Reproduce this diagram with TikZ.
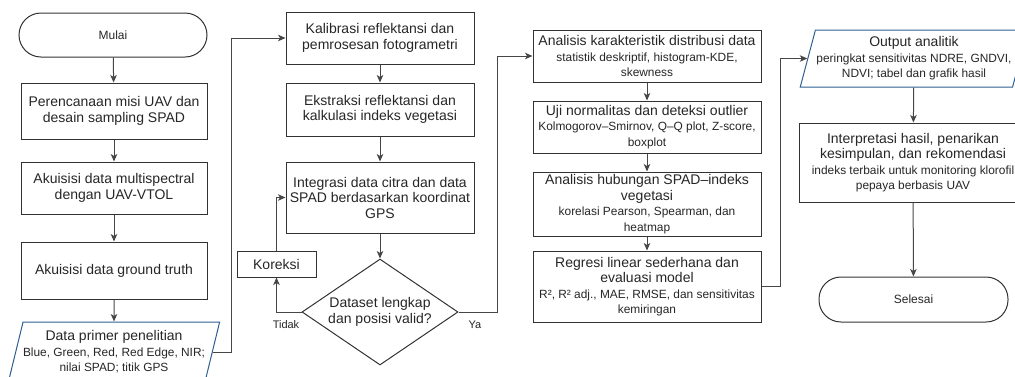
\documentclass[tikz,border=0pt]{standalone}
\usepackage{fontspec}
\setmainfont{Liberation Sans}
\usepackage{tikz}
\usetikzlibrary{shapes.geometric,arrows.meta}

\definecolor{garis}{RGB}{50,50,50}
\definecolor{panah}{RGB}{70,70,70}
\definecolor{biru}{RGB}{45,95,145}
\newcommand{\kecil}{\fontsize{11.9}{13}\selectfont}

\begin{document}
\begin{tikzpicture}[x=1pt,y=-1pt]
        \tikzstyle{every node}=[font=\fontsize{14}{15.5}\selectfont, text=black!85, inner sep=0pt, align=center]
        \tikzstyle{proses}=[draw=garis, line width=1pt, rectangle]
        \tikzstyle{terminal}=[draw=garis, line width=1pt, rectangle, rounded corners=22pt, font=\fontsize{12}{14}\selectfont]
        \tikzstyle{iodata}=[draw=biru, line width=1pt, trapezium, trapezium left angle=71, trapezium right angle=109, trapezium stretches=true]
        \tikzstyle{keputusan}=[draw=garis, line width=1pt, diamond, aspect=1.47]
        \tikzstyle{arr}=[draw=panah, line width=1pt, -{Stealth[length=7.5pt,width=6.5pt,inset=2pt]}]
        \tikzstyle{ket}=[font=\fontsize{11}{13}\selectfont]

        \useasboundingbox (0,0) rectangle (1015,376);

        % kolom 1
        \node (mulai) [terminal, minimum width=188pt, minimum height=44pt] at (113,35) {Mulai};
        \node (rencana) [proses, minimum width=186pt, minimum height=56pt] at (114,111) {Perencanaan misi UAV dan\\desain sampling SPAD};
        \node (akuisisi) [proses, minimum width=186pt, minimum height=52pt] at (114,188) {Akuisisi data multispectral\\dengan UAV-VTOL};
        \node (ground) [proses, minimum width=186pt, minimum height=57pt] at (114,270.5) {Akuisisi data ground truth};
        \node (primer) [iodata, minimum width=208.7pt, minimum height=60pt] at (114,352) {Data primer penelitian\\{\kecil Blue, Green, Red, Red Edge, NIR;}\\{\kecil nilai SPAD; titik GPS}};

        % kolom 2
        \node (kalibrasi) [proses, minimum width=188pt, minimum height=52pt] at (380,38) {Kalibrasi reflektansi dan\\pemrosesan fotogrametri};
        \node (ekstraksi) [proses, minimum width=188pt, minimum height=53pt] at (380,109.5) {Ekstraksi reflektansi dan\\kalkulasi indeks vegetasi};
        \node (integrasi) [proses, minimum width=188pt, minimum height=71pt] at (380,197.5) {Integrasi data citra dan data\\SPAD berdasarkan koordinat\\GPS};
        \node (koreksi) [proses, minimum width=79pt, minimum height=26pt] at (276.5,264) {Koreksi};
        \node (valid) [keputusan, minimum width=156pt, minimum height=106pt] at (380,312) {Dataset lengkap\\dan posisi valid?};

        % kolom 3
        \node (distribusi) [proses, minimum width=228pt, minimum height=52pt] at (647,56) {Analisis karakteristik distribusi data\\{\kecil statistik deskriptif, histogram-KDE,}\\{\kecil skewness}};
        \node (normalitas) [proses, minimum width=228pt, minimum height=52pt] at (647,127) {Uji normalitas dan deteksi outlier\\{\kecil Kolmogorov–Smirnov, Q–Q plot, Z-score,}\\{\kecil boxplot}};
        \node (hubungan) [proses, minimum width=228pt, minimum height=64pt] at (647,204) {Analisis hubungan SPAD–indeks\\vegetasi\\{\kecil korelasi Pearson, Spearman, dan}\\{\kecil heatmap}};
        \node (regresi) [proses, minimum width=228pt, minimum height=71pt] at (647,286.5) {Regresi linear sederhana dan\\evaluasi model\\{\kecil R², R² adj., MAE, RMSE, dan sensitivitas}\\{\kecil kemiringan}};

        % kolom 4
        \node (output) [iodata, minimum width=227.6pt, minimum height=57pt] at (914,58.5) {Output analitik\\{\kecil peringkat sensitivitas NDRE, GNDVI,}\\{\kecil NDVI; tabel dan grafik hasil}};
        \node (interpretasi) [proses, minimum width=228pt, minimum height=79pt] at (913,162.5) {Interpretasi hasil, penarikan\\kesimpulan, dan rekomendasi\\{\kecil indeks terbaik untuk monitoring klorofil}\\{\kecil pepaya berbasis UAV}};
        \node (selesai) [terminal, minimum width=189pt, minimum height=45pt] at (913.5,299.5) {Selesai};

        \draw[arr] (mulai) -- (rencana);
        \draw[arr] (rencana) -- (akuisisi);
        \draw[arr] (akuisisi) -- (ground);
        \draw[arr] (ground) -- (primer);
        \draw[arr] (primer.east) -- ++(19,0) |- (kalibrasi.west);
        \draw[arr] (kalibrasi) -- (ekstraksi);
        \draw[arr] (ekstraksi) -- (integrasi);
        \draw[arr] (integrasi) -- (valid);
        \draw[arr] (valid.west) -| (koreksi.south);
        \draw[arr] (koreksi.north) |- (integrasi.west);
        \draw[arr] (valid.east) -- ++(39,0) |- (distribusi.west);
        \draw[arr] (distribusi) -- (normalitas);
        \draw[arr] (normalitas) -- (hubungan);
        \draw[arr] (hubungan) -- (regresi);
        \draw[arr] (regresi.east) -- ++(19,0) |- (output.west);
        \draw[arr] (output) -- (interpretasi);
        \draw[arr] (interpretasi) -- (selesai);

        \node (tidak) [ket] at (286,325) {Tidak};
        \node (ya) [ket] at (475,325) {Ya};
    \end{tikzpicture}
\end{document}
